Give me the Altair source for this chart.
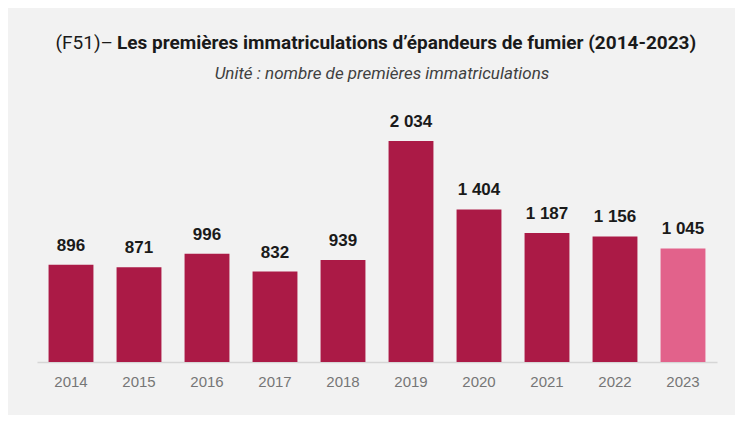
import altair as alt
import pandas as pd

years = ["2014", "2015", "2016", "2017", "2018", "2019", "2020", "2021", "2022", "2023"]
values = [896, 871, 996, 832, 939, 2034, 1404, 1187, 1156, 1045]
highlight = ["old"] * 9 + ["new"]

def fmt(v):
    s = f"{v:,}".replace(",", " ")
    return s

df = pd.DataFrame({"year": years, "value": values, "grp": highlight,
                   "label": [fmt(v) for v in values]})

x = alt.X("year:N", sort=years, title=None,
          scale=alt.Scale(paddingInner=0.34, paddingOuter=0.17),
          axis=alt.Axis(labelAngle=0, ticks=False, labelPadding=12,
                        labelFontSize=15, labelColor="#767676",
                        labelFont="Liberation Sans",
                        domainColor="#d6d6d6", domainWidth=1.5))
y = alt.Y("value:Q", title=None, axis=None, scale=alt.Scale(domain=[0, 2411], nice=False))

bars = alt.Chart(df).mark_bar().encode(
    x=x, y=y,
    color=alt.Color("grp:N", scale=alt.Scale(domain=["old", "new"], range=["#ab1a46", "#e2628b"]), legend=None),
)
labels = alt.Chart(df).mark_text(baseline="bottom", dy=-10, fontSize=17, fontWeight="bold",
                                 font="Liberation Sans", color="#1a1a1a").encode(
    x=alt.X("year:N", sort=years), y=y, text="label:N")

t1 = alt.Chart(pd.DataFrame({"t": ["(F51)–"]})).mark_text(
    align="right", baseline="middle", fontSize=19, font="Roboto", color="#1a1a1a"
).encode(x=alt.value(76), y=alt.value(-57), text="t:N")
t2 = alt.Chart(pd.DataFrame({"t": ["Les premières immatriculations d’épandeurs de fumier (2014-2023)"]})).mark_text(
    align="left", baseline="middle", fontSize=19, fontWeight="bold", font="Roboto", color="#1a1a1a"
).encode(x=alt.value(80), y=alt.value(-57), text="t:N")
t3 = alt.Chart(pd.DataFrame({"t": ["Unité : nombre de premières immatriculations"]})).mark_text(
    align="center", baseline="middle", fontSize=17, fontStyle="italic", font="Roboto", color="#404040"
).encode(x=alt.value(345), y=alt.value(-26), text="t:N")

chart = alt.layer(bars, labels, t1, t2, t3).properties(
    width=680, height=262,
    autosize=alt.AutoSizeParams(type="none"),
    padding={"left": 29, "top": 92, "right": 18, "bottom": 53},
    background="#f2f2f2",
).configure_view(stroke=None)

chart.save("out.html", embed_options={"renderer": "svg", "actions": False})
